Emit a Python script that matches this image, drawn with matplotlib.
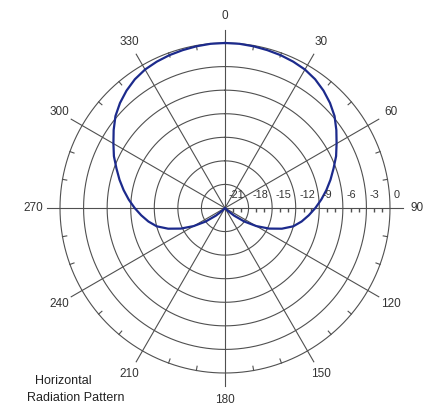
import matplotlib
matplotlib.use('Agg')
import matplotlib.pyplot as plt
import numpy as np

plt.rcParams['font.family'] = ['Liberation Sans', 'DejaVu Sans']

# pattern, 5 degree steps, 0..355 (clockwise from north)
angles_deg = np.arange(0, 360, 5)
gain_db = [0.0, -0.02, -0.1, -0.2, -0.3, -0.45, -0.65, -1.0, -1.5, -2.1,
           -2.8, -3.7, -4.6, -5.4, -6.3, -7.1, -7.9, -8.7, -9.5, -10.3,
           -11.1, -12.0, -13.3, -14.8, -16.4, -18.0, -19.5, -20.5, -21.0, -21.0,
           -21.0, -21.0, -21.0, -21.0, -21.0, -21.0, -21.0,
           -21.0, -21.0, -21.0, -21.0, -21.0, -21.0, -21.0, -21.0, -20.5, -19.5,
           -18.0, -16.4, -14.8, -13.3, -12.0, -11.1, -10.3, -9.5, -8.7, -7.9,
           -7.1, -6.3, -5.4, -4.6, -3.7, -2.8, -2.1, -1.5, -1.0, -0.65,
           -0.45, -0.3, -0.2, -0.1, -0.02]

ring_db = [-18, -15, -12, -9, -6, -3, 0]
ring_labels = ['-21', '-18', '-15', '-12', '-9', '-6', '-3', '0']
ring_label_pos = [-21, -18, -15, -12, -9, -6, -3, 0]
spoke_deg = np.arange(0, 360, 30)
spoke_labels = [str(a) for a in spoke_deg]

rmin, rmax = -21, 0
grid_col = '#505050'
text_col = '#333333'

fig = plt.figure(figsize=(4.24, 4.07), dpi=100)
cx, cy, rad = 225, 208, 165
ax = fig.add_axes([(cx - rad) / 424, (407 - cy - rad) / 407, 2 * rad / 424, 2 * rad / 407],
                  projection='polar')
ax.set_theta_zero_location('N')
ax.set_theta_direction(-1)
ax.set_ylim(rmin, rmax)
ax.spines['polar'].set_visible(False)
ax.grid(False)
ax.set_xticks([])
ax.set_yticks([])
ax.patch.set_alpha(0)

full = np.linspace(0, 2 * np.pi, 721)
for r in ring_db:
    ax.plot(full, np.full_like(full, r), color=grid_col, lw=0.8, clip_on=False)

for a in spoke_deg:
    t = np.deg2rad(a)
    ax.plot([t, t], [rmin, 1.6], color=grid_col, lw=0.8, clip_on=False)

# small ticks on the outer ring
for a in range(0, 360, 10):
    if a % 30 == 0:
        continue
    t = np.deg2rad(a)
    ax.plot([t, t], [0, -0.55], color=grid_col, lw=0.8, clip_on=False)

# minor ticks along the 90 degree axis
minor = [v for v in range(-20, 0) if v % 3 != 0]
ax.plot(np.full(len(minor), np.pi / 2), minor, linestyle='none', marker=3,
        markersize=3, color=grid_col, clip_on=False)

for a, lab in zip(spoke_deg, spoke_labels):
    ax.text(np.deg2rad(a), 3.4, lab, ha='center', va='center', fontsize=8.5,
            color=text_col, clip_on=False)

for r, lab in zip(ring_label_pos, ring_labels):
    ax.annotate(lab, xy=(np.pi / 2, r), xytext=(2.5, 5.5), textcoords='offset points',
                ha='left', va='bottom', fontsize=7.8, color=text_col, annotation_clip=False)

ax.plot(np.deg2rad(np.append(angles_deg, 360)), np.append(gain_db, gain_db[0]),
        color='#1c2a8c', lw=1.6, clip_on=False)

fig.text(35 / 424, 1 - 381 / 407, 'Horizontal', ha='left', va='center', fontsize=9, color='#222222')
fig.text(27 / 424, 1 - 398 / 407, 'Radiation Pattern', ha='left', va='center', fontsize=9, color='#222222')

fig.savefig('out.png', dpi=100)
